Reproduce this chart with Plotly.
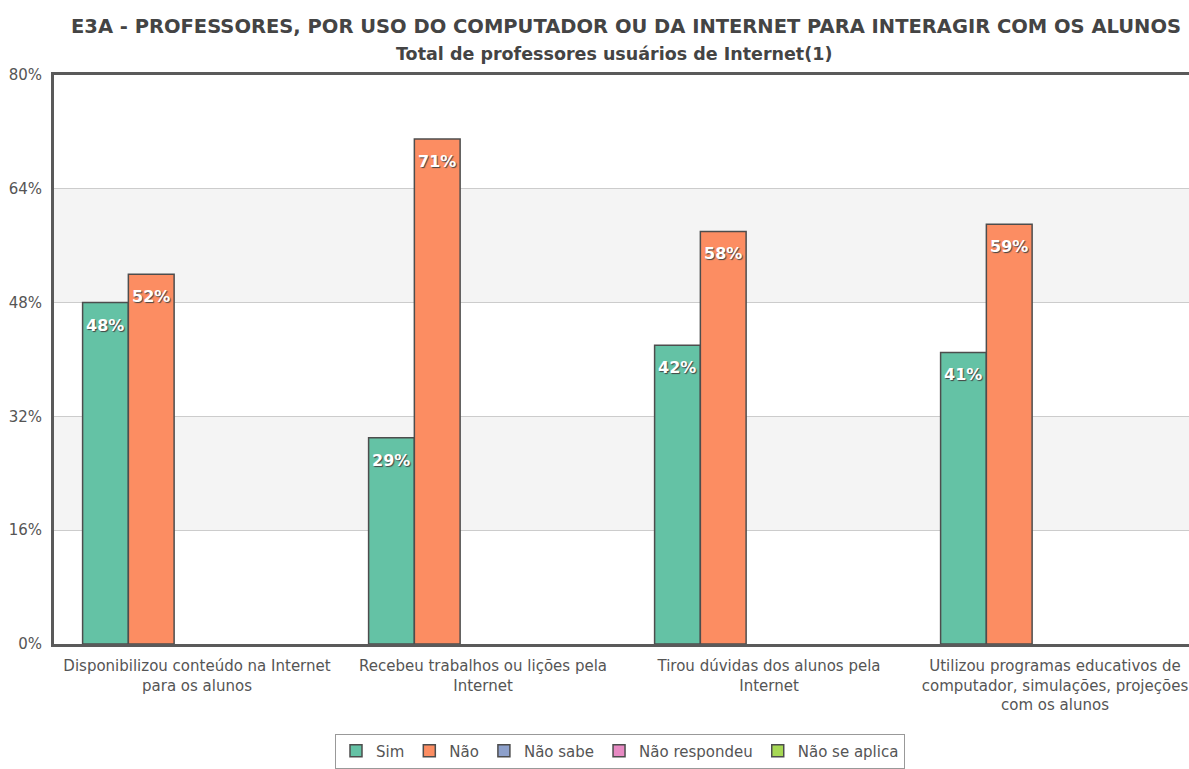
import plotly.graph_objects as go

categories = [
    "Disponibilizou conteúdo na Internet<br>para os alunos",
    "Recebeu trabalhos ou lições pela<br>Internet",
    "Tirou dúvidas dos alunos pela<br>Internet",
    "Utilizou programas educativos de<br>computador, simulações, projeções<br>com os alunos",
]
series_names = ["Sim", "Não", "Não sabe", "Não respondeu", "Não se aplica"]
sim = [48, 29, 42, 41]
nao = [52, 71, 58, 59]
nao_sabe = [None, None, None, None]
nao_respondeu = [None, None, None, None]
nao_se_aplica = [None, None, None, None]
y_ticks = [0, 16, 32, 48, 64, 80]

colors = ["#64c2a5", "#fc8d62", "#8da0cb", "#e78ac3", "#a6d854"]
FONT = "DejaVu Sans"
GRAY = "#555555"

# plot area spans page rows 75..647, cols 54..1189 (body margin removed below)
FIG_W, FIG_H = 1189, 769
PLOT_TOP, PLOT_BOTTOM, PLOT_LEFT = 75, 647, 54
PLOT_H = PLOT_BOTTOM - PLOT_TOP
PLOT_W = FIG_W - PLOT_LEFT


def py(px):
    return (PLOT_BOTTOM - px) / PLOT_H


def pxx(px):
    return (px - PLOT_LEFT) / PLOT_W


fig = go.Figure()
x_idx = list(range(len(categories)))
for name, vals, col in zip(series_names, [sim, nao, nao_sabe, nao_respondeu, nao_se_aplica], colors):
    fig.add_trace(go.Bar(
        x=x_idx, y=vals, name=name,
        marker=dict(color=col, line=dict(color="#4d4d4d", width=1.5)),
    ))

# value labels inside the bars, just under the top
slot = 0.8 / len(series_names)
for k, vals in enumerate([sim, nao]):
    off = -0.4 + slot * (k + 0.5)
    for i, v in enumerate(vals):
        fig.add_annotation(
            x=i + off, y=v, text=f"<b>{v}%</b>", showarrow=False,
            yanchor="top", yshift=-11,
            font=dict(family=FONT, size=16, color="white", shadow="1px 1px 1px #444"),
        )

# alternating background bands
for y0, y1 in [(16, 32), (48, 64)]:
    fig.add_shape(type="rect", xref="paper", yref="y", x0=0, x1=1, y0=y0, y1=y1,
                  fillcolor="#f4f4f4", line_width=0, layer="below")

fig.add_annotation(
    xref="paper", yref="paper", x=pxx(626), y=py(26),
    text="<b>E3A - PROFESSORES, POR USO DO COMPUTADOR OU DA INTERNET PARA INTERAGIR COM OS ALUNOS</b>",
    showarrow=False, xanchor="center", yanchor="middle",
    font=dict(family=FONT, size=19.5, color="#444444"),
)
fig.add_annotation(
    xref="paper", yref="paper", x=pxx(614), y=py(54),
    text="<b>Total de professores usuários de Internet(1)</b>",
    showarrow=False, xanchor="center", yanchor="middle",
    font=dict(family=FONT, size=17.5, color="#444444"),
)

fig.update_layout(
    width=FIG_W, height=FIG_H,
    margin=dict(l=PLOT_LEFT, r=0, t=PLOT_TOP, b=FIG_H - PLOT_BOTTOM),
    paper_bgcolor="white", plot_bgcolor="white",
    barmode="group", bargap=0.2, bargroupgap=0,
    font=dict(family=FONT, size=15, color=GRAY),
    showlegend=True,
    legend=dict(
        orientation="h", x=pxx(620), xanchor="center", y=py(737), yanchor="top",
        bordercolor="#999999", borderwidth=1, bgcolor="white",
        font=dict(family=FONT, size=15, color=GRAY),
        itemwidth=30,
    ),
    xaxis=dict(
        tickmode="array", tickvals=x_idx, ticktext=categories,
        range=[-0.5, -0.5 + PLOT_W / 286],
        showline=True, linecolor="#5a5a5a", linewidth=3, mirror=True,
        ticks="", showgrid=False, zeroline=False,
        ticklabelstandoff=6,
    ),
    yaxis=dict(
        range=[0, 80], tickvals=y_ticks, ticktext=[f"{t}%" for t in y_ticks],
        showline=True, linecolor="#5a5a5a", linewidth=3,
        showgrid=True, gridcolor="#cccccc", gridwidth=1, zeroline=False,
        ticks="", ticklabelstandoff=6,
        tickfont=dict(size=15),
    ),
)

fig.write_html("out.html", config={"displayModeBar": False},
               post_script="document.body.style.margin='0';")
